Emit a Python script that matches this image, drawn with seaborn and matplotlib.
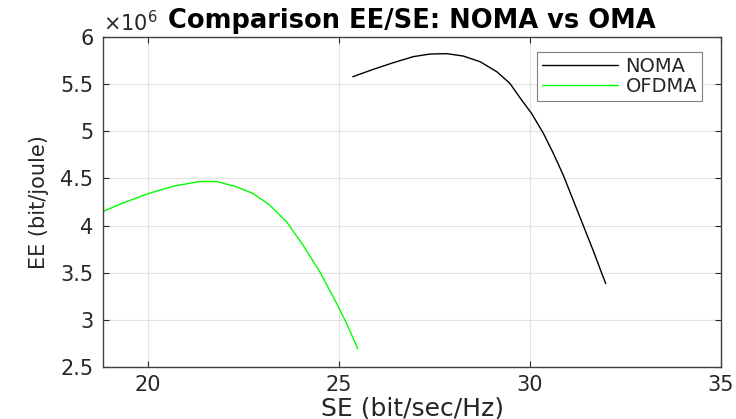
import numpy as np
import pandas as pd
import matplotlib
matplotlib.use("Agg")
import matplotlib.pyplot as plt
import seaborn as sns
from matplotlib.ticker import FuncFormatter

# ---- data (EE in bit/joule) ----
noma_se = [25.37, 25.91, 26.43, 26.95, 27.39, 27.83, 28.26, 28.70, 29.14, 29.48, 29.79, 30.05,
           30.36, 30.62, 30.88, 31.14, 31.40, 31.66, 31.84, 31.99]
noma_ee = [5.581e6, 5.660e6, 5.730e6, 5.794e6, 5.822e6, 5.826e6, 5.801e6, 5.741e6, 5.634e6, 5.511e6,
           5.333e6, 5.191e6, 4.979e6, 4.766e6, 4.535e6, 4.269e6, 4.003e6, 3.737e6, 3.543e6, 3.383e6]
ofdma_se = [18.84, 19.36, 20.02, 20.67, 21.37, 21.81, 22.33, 22.76, 23.20, 23.64, 24.07, 24.51,
            24.95, 25.21, 25.50]
ofdma_ee = [4.152e6, 4.240e6, 4.340e6, 4.418e6, 4.468e6, 4.468e6, 4.411e6, 4.340e6, 4.216e6, 4.038e6,
            3.790e6, 3.506e6, 3.170e6, 2.957e6, 2.691e6]
series_names = ["NOMA", "OFDMA"]
x_ticks = [20, 25, 30, 35]
y_ticks = [2.5e6, 3e6, 3.5e6, 4e6, 4.5e6, 5e6, 5.5e6, 6e6]

df = pd.concat([
    pd.DataFrame({"SE": noma_se, "EE": noma_ee, "Scheme": series_names[0]}),
    pd.DataFrame({"SE": ofdma_se, "EE": ofdma_ee, "Scheme": series_names[1]}),
], ignore_index=True)

sns.set_style("white")
plt.rcParams["font.family"] = ["DejaVu Sans"]
dark = "#262626"

fig = plt.figure(figsize=(7.36, 4.19), dpi=100)
ax = fig.add_axes([0.1404, 0.1248, 0.8388, 0.7862])

sns.lineplot(data=df, x="SE", y="EE", hue="Scheme",
             palette={"NOMA": "#000000", "OFDMA": "#00ff00"},
             sort=False, estimator=None, linewidth=1.0, ax=ax)

ax.set_xlim(18.84, 35)
ax.set_ylim(2.5e6, 6e6)
ax.set_xticks(x_ticks)
ax.set_yticks(y_ticks)
ax.yaxis.set_major_formatter(FuncFormatter(lambda v, p: f"{v/1e6:g}"))
ax.grid(True, color="#e2e2e2", linewidth=0.8)
ax.set_axisbelow(True)

for s in ax.spines.values():
    s.set_color("#404040")
    s.set_linewidth(1.0)
ax.tick_params(direction="in", length=4, width=0.8, color=dark, labelcolor=dark,
               labelsize=15, top=True, right=True, bottom=True, left=True)
ax.tick_params(axis="x", pad=6)
ax.tick_params(axis="y", pad=7)

ax.set_xlabel("SE (bit/sec/Hz)", fontsize=18, color=dark, labelpad=1)
ax.set_ylabel("EE (bit/joule)", fontsize=15, color=dark, labelpad=8)
ax.set_title("Comparison EE/SE: NOMA vs OMA", fontsize=18.5, fontweight="bold",
             color="black", pad=6.7)

ax.text(0.0, 1.005, r"$\times10^{6}$", transform=ax.transAxes, ha="left", va="bottom",
        fontsize=15, color=dark)

handles, labels = ax.get_legend_handles_labels()
leg = ax.legend(handles, labels, loc="upper right", bbox_to_anchor=(0.9697, 0.9545),
                borderaxespad=0, fontsize=14, frameon=True, fancybox=False,
                edgecolor="#808080", handlelength=3.9, handletextpad=0.4,
                borderpad=0.25, labelspacing=0.05, framealpha=1)
leg.get_frame().set_linewidth(0.8)
for t in leg.get_texts():
    t.set_color(dark)

fig.savefig("out.png", dpi=100)
